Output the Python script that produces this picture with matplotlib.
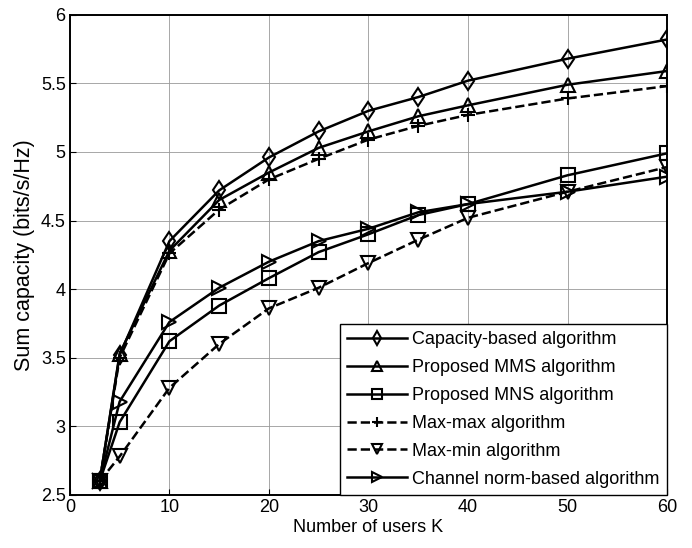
import matplotlib
matplotlib.use('Agg')
from matplotlib import pyplot as plt

plt.rcParams['font.family'] = ['Liberation Sans', 'DejaVu Sans']

# number of users
users = [3, 5, 10, 15, 20, 25, 30, 35, 40, 50, 60]

capacity_based = [2.6, 3.52, 4.35, 4.72, 4.96, 5.15, 5.30, 5.40, 5.52, 5.68, 5.82]
proposed_mms = [2.6, 3.53, 4.28, 4.65, 4.85, 5.03, 5.15, 5.26, 5.34, 5.49, 5.59]
proposed_mns = [2.6, 3.03, 3.62, 3.88, 4.08, 4.27, 4.40, 4.54, 4.62, 4.83, 4.99]
max_max = [2.6, 3.50, 4.26, 4.58, 4.80, 4.95, 5.09, 5.19, 5.27, 5.39, 5.48]
max_min = [2.6, 2.78, 3.28, 3.60, 3.86, 4.01, 4.19, 4.36, 4.52, 4.71, 4.89]
channel_norm = [2.6, 3.18, 3.76, 4.01, 4.20, 4.35, 4.44, 4.56, 4.62, 4.71, 4.82]

labels = ['Capacity-based algorithm', 'Proposed MMS algorithm', 'Proposed MNS algorithm',
          'Max-max algorithm', 'Max-min algorithm', 'Channel norm-based algorithm']

fig = plt.figure(figsize=(6.92, 5.48), dpi=100)
ax = fig.add_axes([0.101, 0.097, 0.863, 0.876])

kw = dict(color='black', lw=1.8, markersize=9.5, markerfacecolor='none', markeredgewidth=1.5)
ax.plot(users, capacity_based, '-', marker='d', label=labels[0], **kw)
ax.plot(users, proposed_mms, '-', marker='^', label=labels[1], **kw)
ax.plot(users, proposed_mns, '-', marker='s', label=labels[2], **kw)
ax.plot(users, max_max, '--', marker='+', label=labels[3], **kw)
ax.plot(users, max_min, '--', marker='v', label=labels[4], **kw)
ax.plot(users, channel_norm, '-', marker='>', label=labels[5], **kw)

ax.set_xlim(0, 60)
ax.set_ylim(2.5, 6)
ax.set_xticks(range(0, 61, 10))
ax.set_yticks([2.5, 3, 3.5, 4, 4.5, 5, 5.5, 6])
ax.set_yticklabels(['2.5', '3', '3.5', '4', '4.5', '5', '5.5', '6'])
ax.tick_params(labelsize=13, direction='in', length=4, pad=3)
ax.grid(True, linestyle='-', color='0.6', lw=0.6)
for s in ax.spines.values():
    s.set_linewidth(1.4)

ax.set_xlabel('Number of users K', fontsize=13, labelpad=2)
ax.set_ylabel('Sum capacity (bits/s/Hz)', fontsize=15.5, labelpad=4)

leg = ax.legend(loc='lower right', fontsize=13, fancybox=False, framealpha=1,
                edgecolor='black', borderaxespad=0, handlelength=3.3,
                handletextpad=0.3, labelspacing=0.6, borderpad=0.4,
                markerscale=0.75)
leg.get_frame().set_linewidth(1.0)

fig.savefig('out.png', dpi=100)
